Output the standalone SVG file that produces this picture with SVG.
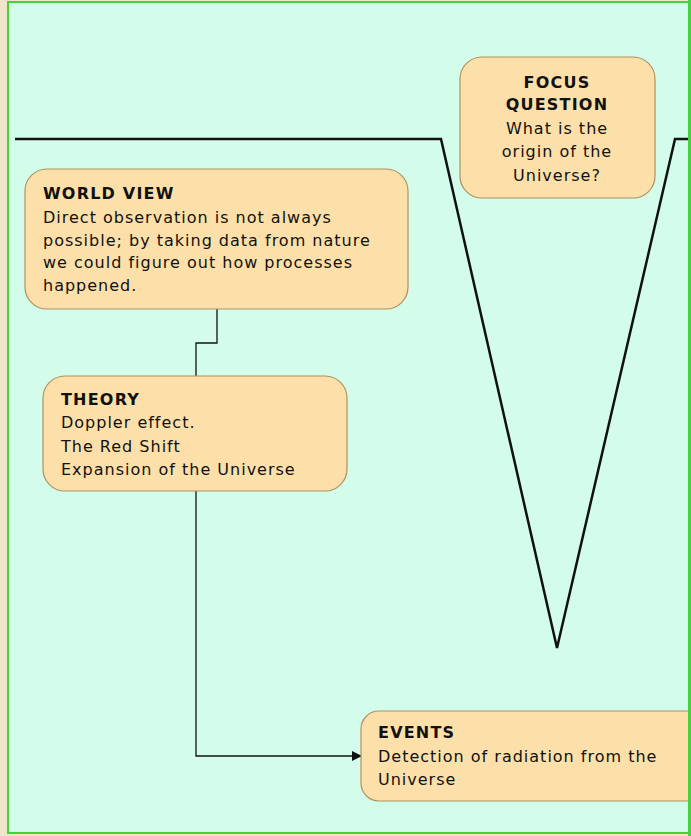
<svg xmlns="http://www.w3.org/2000/svg" width="691" height="836" viewBox="0 0 691 836">
<style>
.box{fill:#fde0a9;stroke:#b09060;stroke-width:1.2}
text{font-family:"DejaVu Sans","Liberation Sans",sans-serif;font-size:16px;letter-spacing:1px;fill:#111}
.h{font-weight:bold;letter-spacing:1.2px}
.c{text-anchor:middle}
.ln{fill:none;stroke:#111;stroke-width:1.3}
.v{fill:none;stroke:#111;stroke-width:2.5}
</style>
<defs>
<marker id="arr" markerWidth="10" markerHeight="10" refX="9" refY="5" orient="auto" markerUnits="userSpaceOnUse">
<path d="M0,0 L10,5 L0,10 z" fill="#111"/>
</marker>
</defs>
<rect x="0" y="0" width="691" height="836" fill="#efe6c9"/>
<rect x="8" y="2" width="681" height="831" fill="#d3fcea" stroke="#44d33c" stroke-width="2"/>
<path class="v" d="M15,139 L441,139 L557,648 L675,139 L689,139"/>
<g id="connectors">
<path class="ln" d="M217,309 L217,343 L196,343 L196,376"/>
<path class="ln" d="M196,491 L196,756 L361,756" marker-end="url(#arr)"/>
</g>
<g id="focus">
<rect class="box" x="460" y="57" width="195" height="141" rx="22"/>
<text class="h c" x="557" y="88">FOCUS</text>
<text class="h c" x="557" y="110">QUESTION</text>
<text class="c" x="557" y="134">What is the</text>
<text class="c" x="557" y="157">origin of the</text>
<text class="c" x="557" y="181">Universe?</text>
</g>
<g id="worldview">
<rect class="box" x="25" y="169" width="383" height="140" rx="22"/>
<text class="h" x="43" y="199">WORLD VIEW</text>
<text x="43" y="223">Direct observation is not always</text>
<text x="43" y="246">possible; by taking data from nature</text>
<text x="43" y="268">we could figure out how processes</text>
<text x="43" y="291">happened.</text>
</g>
<g id="theory">
<rect class="box" x="43" y="376" width="304" height="115" rx="22"/>
<text class="h" x="61" y="405">THEORY</text>
<text x="61" y="428">Doppler effect.</text>
<text x="61" y="452">The Red Shift</text>
<text x="61" y="475">Expansion of the Universe</text>
</g>
<g id="events">
<rect class="box" x="361" y="711" width="345" height="90" rx="18"/>
<text class="h" x="378" y="738">EVENTS</text>
<text x="378" y="762">Detection of radiation from the</text>
<text x="378" y="785">Universe</text>
</g>
<rect x="688" y="0" width="3" height="836" fill="#44d33c"/>
</svg>
